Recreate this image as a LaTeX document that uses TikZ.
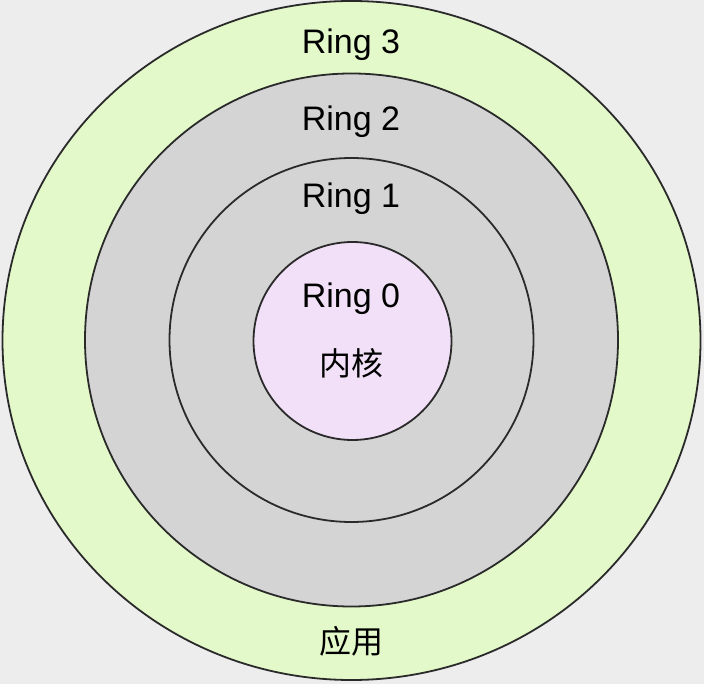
\documentclass[tikz,border=0pt]{standalone}
\usepackage{fontspec}
\setmainfont{Liberation Sans}
\newfontfamily\cjkfont{Noto Sans CJK SC}
\usepackage{tikz}
\usetikzlibrary{shapes.geometric}

\definecolor{bgGray}{HTML}{EDEDED}
\definecolor{appGreen}{HTML}{E3F9C9}
\definecolor{midGray}{HTML}{D4D4D4}
\definecolor{kernPink}{HTML}{F2E0F8}
\definecolor{edgeDark}{HTML}{2A2A2A}

\begin{document}
\begin{tikzpicture}[
    x=1pt, y=-1pt,
    ring/.style   = {circle, draw=edgeDark, line width=1.8pt, inner sep=0pt},
    outer/.style  = {ellipse, draw=edgeDark, line width=1.8pt, inner sep=0pt},
    lbl/.style    = {font=\fontsize{34}{36}\selectfont, inner sep=0pt, anchor=center},
    cjk/.style    = {font=\fontsize{32}{36}\selectfont\cjkfont, inner sep=0pt, anchor=center},
]

% background / bounding box
\fill[bgGray] (0,0) rectangle (704,684);
\useasboundingbox (0,0) rectangle (704,684);

% =============================== rings, outside in ===========================
\node[outer, fill=appGreen, minimum width=698pt, minimum height=679pt] (R3) at (351.5,340.5) {};
\node[ring,  fill=midGray,  minimum size=533pt] (R2) at (351.5,340) {};
\node[ring,  fill=midGray,  minimum size=364pt] (R1) at (351.5,340) {};
\node[ring,  fill=kernPink, minimum size=198pt] (R0) at (352.5,341) {};

% =============================== labels ======================================
\node[lbl] (L3)  at (351,45)  {Ring 3};
\node[lbl] (L2)  at (351,122) {Ring 2};
\node[lbl] (L1)  at (351,199) {Ring 1};
\node[lbl] (L0)  at (351,299) {Ring 0};
\node[cjk] (Lk)  at (351,363) {内核};
\node[cjk] (Lapp) at (351,641) {应用};

\end{tikzpicture}
\end{document}
